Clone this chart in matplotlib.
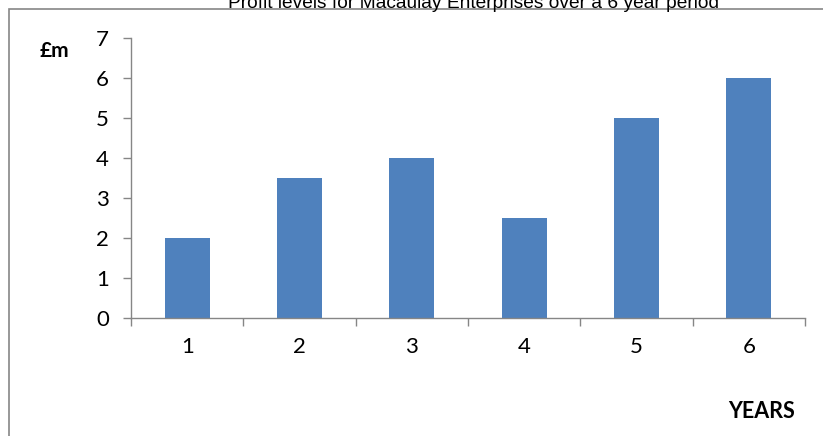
import matplotlib.pyplot as plt
from matplotlib.patches import Rectangle

years = [1, 2, 3, 4, 5, 6]
profit = [2, 3.5, 4, 2.5, 5, 6]
y_ticks = [0, 1, 2, 3, 4, 5, 6, 7]

W, H = 823, 436
fig = plt.figure(figsize=(W / 100, H / 100), dpi=100)

# plot area in pixel coordinates
left, right, top, bottom = 131, 805, 38, 318
ax = fig.add_axes([left / W, 1 - bottom / H, (right - left) / W, (bottom - top) / H])

grey = '#868686'
ax.bar(range(len(years)), profit, width=0.4, color='#4F81BD', zorder=2)
ax.set_xlim(-0.5, len(years) - 0.5)
ax.set_ylim(0, 7)
ax.set_yticks(y_ticks)
ax.set_yticklabels([str(t) for t in y_ticks])
ax.set_xticks(range(len(years)))
ax.set_xticklabels([str(y) for y in years])
ax.tick_params(axis='x', length=0, pad=14)
ax.tick_params(axis='y', length=6, color=grey, width=1, pad=10)
# category boundary ticks on the x axis
ax.set_xticks([i - 0.5 for i in range(len(years) + 1)], minor=True)
ax.tick_params(axis='x', which='minor', length=6, color=grey, width=1)
for lab in ax.get_xticklabels() + ax.get_yticklabels():
    lab.set_fontfamily('Lato')
    lab.set_fontsize(16)
for s in ['top', 'right']:
    ax.spines[s].set_visible(False)
for s in ['left', 'bottom']:
    ax.spines[s].set_color(grey)
    ax.spines[s].set_linewidth(1)

# outer chart border
fig.patches.append(Rectangle((9 / W, -0.1), 1.2, 1 - 9 / H + 0.1, transform=fig.transFigure,
                             fill=False, edgecolor=grey, linewidth=1.2))

fig.text(473 / W, 1 - 3 / H, 'Profit levels for Macaulay Enterprises over a 6 year period',
         ha='center', va='center', fontsize=13.8, family='Liberation Sans')
fig.text(54 / W, 1 - 51 / H, '£m', ha='center', va='center', fontsize=15,
         fontweight='bold', family='Lato')
fig.text(762 / W, 1 - 411 / H, 'YEARS', ha='center', va='center', fontsize=15.5,
         fontweight='bold', family='Lato')

fig.savefig('out.png', dpi=100)
